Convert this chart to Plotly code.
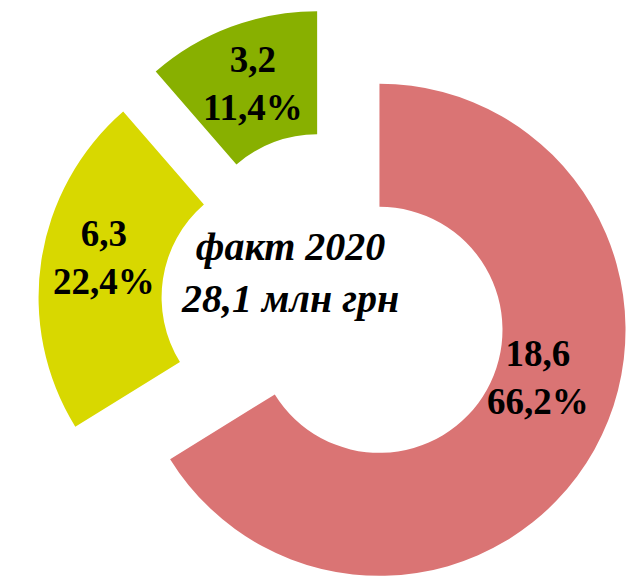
import plotly.graph_objects as go

# Data
categories = ["Категорія 1", "Категорія 2", "Категорія 3"]
values = [18.6, 6.3, 3.2]
colors = ["#DA7474", "#D8D800", "#88B000"]
center_lines = ["факт 2020", "28,1 млн грн"]

total = sum(values)


def fmt(v, nd=1):
    return f"{v:.{nd}f}".replace(".", ",")


label_texts = [f"{fmt(v)}<br>{fmt(100 * v / total)}%" for v in values]

W, H = 641, 640
FONT = "Liberation Serif, Times New Roman, serif"

fig = go.Figure(
    go.Pie(
        labels=categories,
        values=values,
        hole=0.5,
        sort=False,
        direction="clockwise",
        rotation=0,
        pull=[0.207, 0.207, 0.207],
        marker=dict(colors=colors, line=dict(width=0)),
        textinfo="none",
        showlegend=False,
        hoverinfo="label+value+percent",
        domain=dict(x=[0.0451, 0.9751], y=[0.071875, 1.0]),
    )
)

# slice labels (text from data)
label_pos = [(0.8268, 0.4219), (0.1498, 0.6094), (0.3822, 0.8828)]
for txt, (lx, ly) in zip(label_texts, label_pos):
    fig.add_annotation(
        x=lx, y=ly, xref="paper", yref="paper",
        xanchor="center", yanchor="middle",
        text=txt, showarrow=False,
        font=dict(family=FONT, size=37, color="black", weight="bold"),
    )

fig.add_annotation(
    x=0.4399, y=0.5875, xref="paper", yref="paper",
    xanchor="center", yanchor="middle",
    text="<br>".join(center_lines),
    showarrow=False,
    font=dict(family=FONT, size=40, color="black", weight="bold", style="italic"),
)

fig.update_layout(
    width=W, height=H,
    margin=dict(l=0, r=0, t=0, b=0),
    paper_bgcolor="white",
    plot_bgcolor="white",
)

fig.write_html("out.html")
